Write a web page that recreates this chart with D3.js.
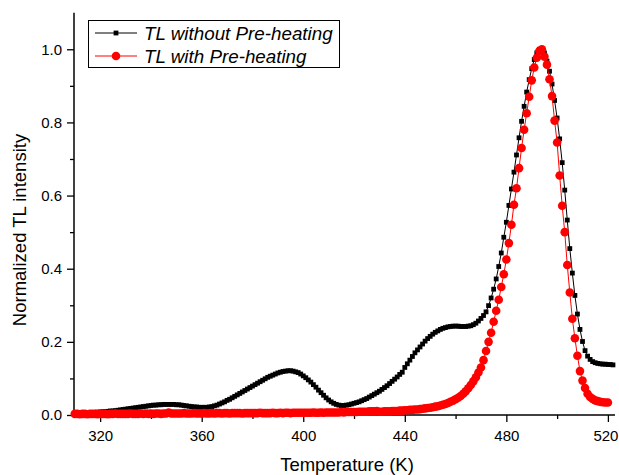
<!DOCTYPE html>
<html>
<head>
<meta charset="utf-8">
<script src="https://cdn.jsdelivr.net/npm/d3@7"></script>
<style>
  html, body { margin: 0; padding: 0; background: #fff; }
  svg { display: block; font-family: Arial, "Liberation Sans", sans-serif; }
</style>
</head>
<body>
<svg id="chart" width="619" height="475"></svg>
<script>
// Temperature grid (K), shared by both glow curves
const temperatures = [
  310,311,312,313,314,315,316,317,318,319,
  320,321,322,323,324,325,326,327,328,329,
  330,331,332,333,334,335,336,337,338,339,
  340,341,342,343,344,345,346,347,348,349,
  350,351,352,353,354,355,356,357,358,359,
  360,361,362,363,364,365,366,367,368,369,
  370,371,372,373,374,375,376,377,378,379,
  380,381,382,383,384,385,386,387,388,389,
  390,391,392,393,394,395,396,397,398,399,
  400,401,402,403,404,405,406,407,408,409,
  410,411,412,413,414,415,416,417,418,419,
  420,421,422,423,424,425,426,427,428,429,
  430,431,432,433,434,435,436,437,438,439,
  440,441,442,443,444,445,446,447,448,449,
  450,451,452,453,454,455,456,457,458,459,
  460,461,462,463,464,465,466,467,468,469,
  470,471,472,473,474,475,476,477,478,479,
  480,481,482,483,484,485,486,487,488,489,
  490,491,492,493,494,495,496,497,498,499,
  500,501,502,503,504,505,506,507,508,509,
  510,511,512,513,514,515,516,517,518,519,
  520,521,522
];

// Normalized TL intensity, sample measured without pre-heating
const withoutPreheat = [
  0.004,0.004,0.005,0.005,0.005,0.006,0.006,0.007,0.007,0.008,
  0.008,0.009,0.009,0.010,0.011,0.011,0.012,0.013,0.014,0.015,
  0.016,0.017,0.018,0.019,0.020,0.021,0.022,0.023,0.024,0.025,
  0.026,0.027,0.027,0.028,0.028,0.029,0.029,0.029,0.029,0.029,
  0.028,0.028,0.027,0.026,0.025,0.024,0.023,0.022,0.022,0.021,
  0.021,0.021,0.021,0.022,0.023,0.025,0.027,0.030,0.033,0.036,
  0.040,0.043,0.047,0.051,0.055,0.059,0.063,0.067,0.071,0.075,
  0.079,0.083,0.087,0.091,0.095,0.099,0.103,0.106,0.109,0.112,
  0.115,0.117,0.119,0.120,0.121,0.121,0.120,0.118,0.116,0.112,
  0.107,0.102,0.096,0.090,0.083,0.076,0.068,0.061,0.054,0.047,
  0.041,0.036,0.032,0.029,0.027,0.026,0.026,0.027,0.028,0.030,
  0.032,0.034,0.036,0.039,0.042,0.045,0.049,0.053,0.057,0.061,
  0.065,0.070,0.075,0.080,0.086,0.092,0.098,0.104,0.111,0.117,
  0.130,0.140,0.150,0.160,0.170,0.178,0.186,0.194,0.202,0.209,
  0.215,0.221,0.226,0.230,0.234,0.237,0.239,0.241,0.242,0.243,
  0.243,0.243,0.242,0.242,0.242,0.243,0.244,0.247,0.251,0.257,
  0.264,0.272,0.282,0.299,0.320,0.344,0.372,0.406,0.443,0.486,
  0.527,0.573,0.618,0.664,0.711,0.758,0.803,0.844,0.883,0.917,
  0.947,0.972,0.990,1.000,0.998,0.990,0.968,0.940,0.905,0.860,
  0.812,0.755,0.690,0.615,0.533,0.455,0.388,0.327,0.276,0.234,
  0.201,0.176,0.161,0.152,0.146,0.143,0.141,0.140,0.139,0.139,
  0.138,0.138,0.137
];

// Normalized TL intensity, sample measured after pre-heating (310–520 K)
const withPreheat = [
  0.003,0.003,0.002,0.003,0.003,0.002,0.003,0.003,0.003,0.002,
  0.003,0.003,0.003,0.002,0.003,0.003,0.004,0.003,0.003,0.003,
  0.003,0.003,0.004,0.003,0.003,0.003,0.004,0.003,0.004,0.003,
  0.004,0.003,0.004,0.004,0.003,0.004,0.004,0.007,0.004,0.004,
  0.004,0.004,0.004,0.005,0.004,0.004,0.004,0.005,0.004,0.004,
  0.004,0.005,0.004,0.004,0.005,0.004,0.005,0.005,0.004,0.005,
  0.005,0.004,0.005,0.005,0.005,0.005,0.004,0.005,0.005,0.005,
  0.005,0.005,0.005,0.006,0.005,0.005,0.005,0.005,0.006,0.005,
  0.005,0.006,0.005,0.006,0.006,0.005,0.006,0.006,0.006,0.006,
  0.006,0.006,0.006,0.006,0.007,0.006,0.006,0.007,0.006,0.007,
  0.007,0.007,0.007,0.007,0.007,0.008,0.007,0.008,0.008,0.008,
  0.008,0.008,0.009,0.009,0.009,0.009,0.010,0.010,0.010,0.011,
  0.009,0.009,0.010,0.010,0.010,0.011,0.011,0.011,0.012,0.012,
  0.013,0.013,0.014,0.014,0.015,0.015,0.016,0.017,0.018,0.019,
  0.020,0.021,0.023,0.024,0.026,0.028,0.030,0.033,0.036,0.039,
  0.043,0.047,0.052,0.058,0.065,0.073,0.082,0.092,0.103,0.116,
  0.130,0.150,0.175,0.200,0.225,0.255,0.285,0.315,0.350,0.385,
  0.425,0.470,0.520,0.575,0.620,0.675,0.730,0.780,0.825,0.870,
  0.915,0.950,0.977,0.995,1.000,0.980,0.958,0.918,0.872,0.805,
  0.745,0.655,0.572,0.500,0.410,0.335,0.263,0.210,0.162,0.120,
  0.094,0.074,0.058,0.049,0.044,0.040,0.038,0.036,0.035,0.034,
  0.034
];

// Axis ticks
const xMajorTicks = [320, 360, 400, 440, 480, 520];
const xMinorTicks = [340, 380, 420, 460, 500];
const yMajorTicks = [0, 0.2, 0.4, 0.6, 0.8, 1.0];
const yMinorTicks = [0.1, 0.3, 0.5, 0.7, 0.9];

const seriesNames = ["TL without Pre-heating", "TL with Pre-heating"];
const xTitle = "Temperature (K)";
const yTitle = "Normalized TL intensity";

const svg = d3.select("#chart");

const x = d3.scaleLinear().domain([309.7, 522.8]).range([74, 615]);
const y = d3.scaleLinear().domain([0, 1.1]).range([415, 12.7]);

const fmtY = d3.format(".1f");

// Axes
const gx = svg.append("g").attr("transform", `translate(0,${y(0)})`);
gx.call(d3.axisBottom(x).tickValues(xMajorTicks).tickSize(7).tickPadding(8).tickFormat(d3.format("d")));
const gxm = svg.append("g").attr("transform", `translate(0,${y(0)})`);
gxm.call(d3.axisBottom(x).tickValues(xMinorTicks).tickSize(4).tickFormat(""));

const gy = svg.append("g").attr("transform", `translate(${x.range()[0]},0)`);
gy.call(d3.axisLeft(y).tickValues(yMajorTicks).tickSize(7).tickPadding(5).tickFormat(fmtY));
const gym = svg.append("g").attr("transform", `translate(${x.range()[0]},0)`);
gym.call(d3.axisLeft(y).tickValues(yMinorTicks).tickSize(4).tickFormat(""));

svg.selectAll(".domain").attr("stroke", "#000").attr("stroke-width", 1.5);
svg.selectAll(".tick line").attr("stroke", "#000").attr("stroke-width", 1.3);
gx.selectAll(".domain").attr("d", `M${x.range()[0]},0H${x.range()[1]}`);
gxm.select(".domain").remove();
gym.select(".domain").remove();
gy.selectAll(".domain").attr("d", `M0,${y.range()[0]}V${y.range()[1]}`);
svg.selectAll(".tick text")
  .attr("font-family", "Arial, 'Liberation Sans', sans-serif")
  .attr("font-size", 15)
  .attr("fill", "#000");
// keep the last x label inside the right edge
gx.selectAll(".tick text").filter(d => d === 520).attr("dx", -2.5);

// Axis titles
svg.append("text")
  .attr("x", 347).attr("y", 471)
  .attr("text-anchor", "middle")
  .attr("font-size", 18.5)
  .attr("fill", "#000")
  .text(xTitle);

svg.append("text")
  .attr("transform", `translate(26,230) rotate(-90)`)
  .attr("text-anchor", "middle")
  .attr("font-size", 18.5)
  .attr("fill", "#000")
  .text(yTitle);

// Curves
const blackPts = withoutPreheat.map((v, i) => [temperatures[i], v]);
const redPts = withPreheat.map((v, i) => [temperatures[i], v]);

const line = d3.line().x(d => x(d[0])).y(d => y(d[1]));

svg.append("path").datum(blackPts)
  .attr("fill", "none").attr("stroke", "#000").attr("stroke-width", 1)
  .attr("d", line);

const sq = 4.8;
svg.append("g").selectAll("rect").data(blackPts).join("rect")
  .attr("x", d => x(d[0]) - sq / 2)
  .attr("y", d => y(d[1]) - sq / 2)
  .attr("width", sq).attr("height", sq)
  .attr("fill", "#000");

svg.append("path").datum(redPts)
  .attr("fill", "none").attr("stroke", "#ff0000").attr("stroke-width", 1)
  .attr("d", line);

svg.append("g").selectAll("circle").data(redPts).join("circle")
  .attr("cx", d => x(d[0]))
  .attr("cy", d => y(d[1]))
  .attr("r", 4.3)
  .attr("fill", "#ff0000");

// Legend
const legend = svg.append("g");
legend.append("rect")
  .attr("x", 88.5).attr("y", 20.5).attr("width", 251).attr("height", 47)
  .attr("fill", "#fff").attr("stroke", "#000").attr("stroke-width", 1);

const rows = [
  { name: seriesNames[0], color: "#000", shape: "square", cy: 33 },
  { name: seriesNames[1], color: "#ff0000", shape: "circle", cy: 56 }
];
rows.forEach(r => {
  legend.append("line")
    .attr("x1", 95).attr("x2", 137).attr("y1", r.cy).attr("y2", r.cy)
    .attr("stroke", r.color).attr("stroke-width", 1);
  if (r.shape === "square") {
    legend.append("rect")
      .attr("x", 116 - sq / 2).attr("y", r.cy - sq / 2)
      .attr("width", sq).attr("height", sq).attr("fill", r.color);
  } else {
    legend.append("circle")
      .attr("cx", 116).attr("cy", r.cy).attr("r", 4.3).attr("fill", r.color);
  }
  legend.append("text")
    .attr("x", 144).attr("y", r.cy + 7)
    .attr("font-size", 18.8)
    .attr("font-style", "italic")
    .attr("fill", "#000")
    .text(r.name);
});
</script>
</body>
</html>
